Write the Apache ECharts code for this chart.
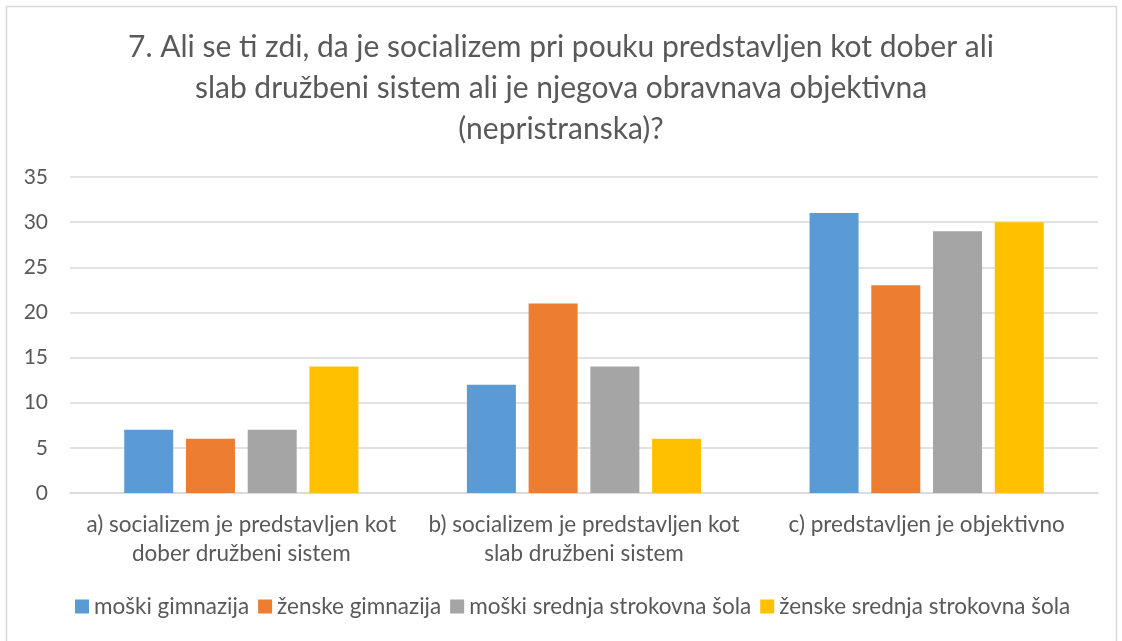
<!DOCTYPE html>
<html>
<head>
<meta charset="utf-8">
<script src="https://cdn.jsdelivr.net/npm/echarts@6/dist/echarts.min.js"></script>
<style>
  html, body { margin: 0; padding: 0; background: #fff; }
  #chart { width: 1122px; height: 641px; }
</style>
</head>
<body>
<div id="chart"></div>
<script>
// question title and categories
const titleText = "7. Ali se ti zdi, da je socializem pri pouku predstavljen kot dober ali\nslab družbeni sistem ali je njegova obravnava objektivna\n(nepristranska)?";
const categories = [
  "a) socializem je predstavljen kot\ndober družbeni sistem",
  "b) socializem je predstavljen kot\nslab družbeni sistem",
  "c) predstavljen je objektivno"
];

const seriesNames = [
  "moški gimnazija",
  "ženske gimnazija",
  "moški srednja strokovna šola",
  "ženske srednja strokovna šola"
];
const moskiGimnazija = [7, 12, 31];
const zenskeGimnazija = [6, 21, 23];
const moskiSrednja = [7, 14, 29];
const zenskeSrednja = [14, 6, 30];
const colors = ["#5B9BD5", "#ED7D31", "#A5A5A5", "#FFC000"];

const font = "Lato, 'Liberation Sans', sans-serif";
const chart = echarts.init(document.getElementById("chart"));

const values = [moskiGimnazija, zenskeGimnazija, moskiSrednja, zenskeSrednja];

chart.setOption({
  animation: false,
  textStyle: { fontFamily: font },
  color: colors,
  title: {
    text: titleText,
    left: "center",
    top: 22,
    textStyle: {
      fontFamily: font,
      fontSize: 30,
      fontWeight: "normal",
      color: "#595959",
      lineHeight: 41
    }
  },
  graphic: [{
    type: "rect",
    shape: { x: 6.5, y: 6.5, width: 1110, height: 640 },
    style: { fill: "none", stroke: "#D9D9D9", lineWidth: 1.5 },
    silent: true
  }],
  legend: {
    bottom: 18,
    left: 70,
    itemWidth: 14,
    itemHeight: 14,
    itemGap: 9,
    icon: "rect",
    textStyle: { fontFamily: font, fontSize: 22.5, color: "#595959", padding: [0, 0, 0, 0] },
    data: seriesNames
  },
  grid: { left: 70, right: 24, top: 177, bottom: 148 },
  xAxis: {
    type: "category",
    data: categories,
    axisLine: { lineStyle: { color: "#D9D9D9", width: 1.5 } },
    axisTick: { show: false },
    axisLabel: {
      fontFamily: font,
      fontSize: 22.5,
      color: "#595959",
      lineHeight: 29,
      margin: 17,
      interval: 0
    }
  },
  yAxis: {
    type: "value",
    min: 0,
    max: 35,
    interval: 5,
    axisLine: { show: false },
    axisTick: { show: false },
    splitLine: { lineStyle: { color: "#D9D9D9", width: 1.5 } },
    axisLabel: { fontFamily: font, fontSize: 21, color: "#595959", margin: 22 }
  },
  series: seriesNames.map((name, i) => ({
    name: name,
    type: "bar",
    data: values[i],
    barWidth: 49,
    barGap: "26%",
    itemStyle: { color: colors[i] }
  }))
});
</script>
</body>
</html>
